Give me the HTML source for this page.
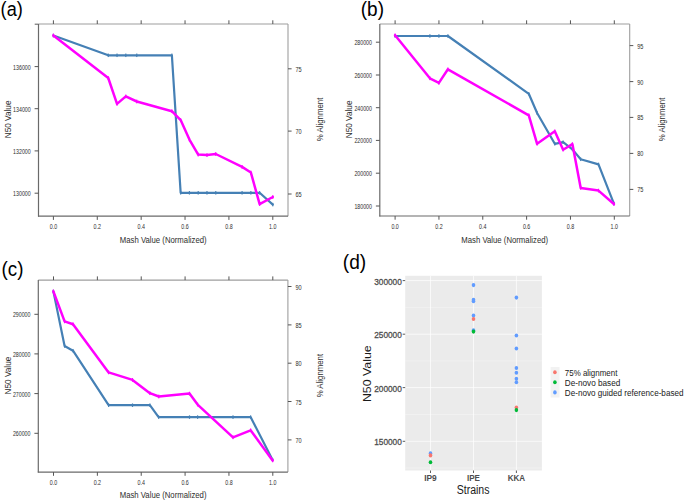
<!DOCTYPE html><html><head><meta charset="utf-8"><style>html,body{margin:0;padding:0;background:#fff;}svg{display:block;}text{font-family:"Liberation Sans", sans-serif;}</style></head><body>
<svg width="685" height="501" viewBox="0 0 685 501">
<rect width="685" height="501" fill="#fff"/>
<text x="0.6" y="16.4" font-size="19.6" text-anchor="start" fill="#000" textLength="22.2" lengthAdjust="spacingAndGlyphs">(a)</text>
<text x="360.8" y="16.4" font-size="19.6" text-anchor="start" fill="#000" textLength="23.2" lengthAdjust="spacingAndGlyphs">(b)</text>
<text x="1.6" y="276.2" font-size="19.6" text-anchor="start" fill="#000" textLength="21.9" lengthAdjust="spacingAndGlyphs">(c)</text>
<text x="342.8" y="268.7" font-size="19.6" text-anchor="start" fill="#000" textLength="23.4" lengthAdjust="spacingAndGlyphs">(d)</text>
<line x1="38.5" y1="24" x2="288" y2="24" stroke="#9e9e9e" stroke-width="1.1"/>
<line x1="288" y1="24" x2="288" y2="216.2" stroke="#9e9e9e" stroke-width="1.1"/>
<line x1="38.5" y1="24" x2="38.5" y2="216.7" stroke="#6a6a6a" stroke-width="1.2"/>
<line x1="38" y1="216.2" x2="288" y2="216.2" stroke="#6a6a6a" stroke-width="1.2"/>
<line x1="53.4" y1="20.3" x2="53.4" y2="24" stroke="#555" stroke-width="1.0"/>
<line x1="53.4" y1="216.2" x2="53.4" y2="219.9" stroke="#555" stroke-width="1.0"/>
<text x="53.4" y="228.9" font-size="6.7" text-anchor="middle" fill="#2e2e2e" textLength="7.4" lengthAdjust="spacingAndGlyphs">0.0</text>
<line x1="97.28" y1="20.3" x2="97.28" y2="24" stroke="#555" stroke-width="1.0"/>
<line x1="97.28" y1="216.2" x2="97.28" y2="219.9" stroke="#555" stroke-width="1.0"/>
<text x="97.28" y="228.9" font-size="6.7" text-anchor="middle" fill="#2e2e2e" textLength="7.4" lengthAdjust="spacingAndGlyphs">0.2</text>
<line x1="141.16" y1="20.3" x2="141.16" y2="24" stroke="#555" stroke-width="1.0"/>
<line x1="141.16" y1="216.2" x2="141.16" y2="219.9" stroke="#555" stroke-width="1.0"/>
<text x="141.16" y="228.9" font-size="6.7" text-anchor="middle" fill="#2e2e2e" textLength="7.4" lengthAdjust="spacingAndGlyphs">0.4</text>
<line x1="185.04" y1="20.3" x2="185.04" y2="24" stroke="#555" stroke-width="1.0"/>
<line x1="185.04" y1="216.2" x2="185.04" y2="219.9" stroke="#555" stroke-width="1.0"/>
<text x="185.04" y="228.9" font-size="6.7" text-anchor="middle" fill="#2e2e2e" textLength="7.4" lengthAdjust="spacingAndGlyphs">0.6</text>
<line x1="228.92" y1="20.3" x2="228.92" y2="24" stroke="#555" stroke-width="1.0"/>
<line x1="228.92" y1="216.2" x2="228.92" y2="219.9" stroke="#555" stroke-width="1.0"/>
<text x="228.92" y="228.9" font-size="6.7" text-anchor="middle" fill="#2e2e2e" textLength="7.4" lengthAdjust="spacingAndGlyphs">0.8</text>
<line x1="272.8" y1="20.3" x2="272.8" y2="24" stroke="#555" stroke-width="1.0"/>
<line x1="272.8" y1="216.2" x2="272.8" y2="219.9" stroke="#555" stroke-width="1.0"/>
<text x="272.8" y="228.9" font-size="6.7" text-anchor="middle" fill="#2e2e2e" textLength="7.4" lengthAdjust="spacingAndGlyphs">1.0</text>
<line x1="34.6" y1="66.6" x2="38.5" y2="66.6" stroke="#555" stroke-width="1.0"/>
<text x="30.7" y="69.6" font-size="6.8" text-anchor="end" fill="#2e2e2e" textLength="17.6" lengthAdjust="spacingAndGlyphs">136000</text>
<line x1="34.6" y1="108.7" x2="38.5" y2="108.7" stroke="#555" stroke-width="1.0"/>
<text x="30.7" y="111.7" font-size="6.8" text-anchor="end" fill="#2e2e2e" textLength="17.6" lengthAdjust="spacingAndGlyphs">134000</text>
<line x1="34.6" y1="150.9" x2="38.5" y2="150.9" stroke="#555" stroke-width="1.0"/>
<text x="30.7" y="153.9" font-size="6.8" text-anchor="end" fill="#2e2e2e" textLength="17.6" lengthAdjust="spacingAndGlyphs">132000</text>
<line x1="34.6" y1="193.2" x2="38.5" y2="193.2" stroke="#555" stroke-width="1.0"/>
<text x="30.7" y="196.2" font-size="6.8" text-anchor="end" fill="#2e2e2e" textLength="17.6" lengthAdjust="spacingAndGlyphs">130000</text>
<line x1="288" y1="68.8" x2="291.6" y2="68.8" stroke="#555" stroke-width="1.0"/>
<text x="295.5" y="71.8" font-size="6.8" text-anchor="start" fill="#2e2e2e" textLength="6.2" lengthAdjust="spacingAndGlyphs">75</text>
<line x1="288" y1="131.1" x2="291.6" y2="131.1" stroke="#555" stroke-width="1.0"/>
<text x="295.5" y="134.1" font-size="6.8" text-anchor="start" fill="#2e2e2e" textLength="6.2" lengthAdjust="spacingAndGlyphs">70</text>
<line x1="288" y1="194" x2="291.6" y2="194" stroke="#555" stroke-width="1.0"/>
<text x="295.5" y="197" font-size="6.8" text-anchor="start" fill="#2e2e2e" textLength="6.2" lengthAdjust="spacingAndGlyphs">65</text>
<text x="163.25" y="242.5" font-size="8.6" text-anchor="middle" fill="#2e2e2e" textLength="86.8" lengthAdjust="spacingAndGlyphs">Mash Value (Normalized)</text>
<text transform="translate(10.9,119.4) rotate(-90)" x="0" y="0" font-size="8.6" text-anchor="middle" fill="#2e2e2e" textLength="37.8" lengthAdjust="spacingAndGlyphs">N50 Value</text>
<text transform="translate(323,119.4) rotate(-90)" x="0" y="0" font-size="8.6" text-anchor="middle" fill="#2e2e2e" textLength="43.5" lengthAdjust="spacingAndGlyphs">% Alignment</text>
<line x1="34.7" y1="24.2" x2="38.5" y2="24.2" stroke="#6a6a6a" stroke-width="1.1"/>
<polyline points="53.4,35.5 108.25,55.3 117.03,55.3 125.8,55.3 136.77,55.3 171.88,55.3 180.65,192.8 189.43,192.8 198.2,192.8 206.98,192.8 215.76,192.8 242.08,192.8 250.86,192.8 259.64,192.8 272.8,204.6" fill="none" stroke="#4580b5" stroke-width="2.2" stroke-linejoin="round" stroke-linecap="round"/>
<rect x="52.8" y="33.75" width="1.2" height="3.5" fill="#4580b5"/>
<rect x="107.65" y="53.55" width="1.2" height="3.5" fill="#4580b5"/>
<rect x="116.43" y="53.55" width="1.2" height="3.5" fill="#4580b5"/>
<rect x="125.2" y="53.55" width="1.2" height="3.5" fill="#4580b5"/>
<rect x="136.17" y="53.55" width="1.2" height="3.5" fill="#4580b5"/>
<rect x="171.28" y="53.55" width="1.2" height="3.5" fill="#4580b5"/>
<rect x="180.05" y="191.05" width="1.2" height="3.5" fill="#4580b5"/>
<rect x="188.83" y="191.05" width="1.2" height="3.5" fill="#4580b5"/>
<rect x="197.6" y="191.05" width="1.2" height="3.5" fill="#4580b5"/>
<rect x="206.38" y="191.05" width="1.2" height="3.5" fill="#4580b5"/>
<rect x="215.16" y="191.05" width="1.2" height="3.5" fill="#4580b5"/>
<rect x="241.48" y="191.05" width="1.2" height="3.5" fill="#4580b5"/>
<rect x="250.26" y="191.05" width="1.2" height="3.5" fill="#4580b5"/>
<rect x="259.04" y="191.05" width="1.2" height="3.5" fill="#4580b5"/>
<rect x="272.2" y="202.85" width="1.2" height="3.5" fill="#4580b5"/>
<polyline points="53.4,35.5 108.25,78 117.03,103.9 125.8,96.4 136.77,101.5 171.88,111.2 180.65,120.1 189.43,139.6 198.2,154.6 206.98,155.1 215.76,154 242.08,166.9 250.86,172.5 259.64,204.1 272.8,197" fill="none" stroke="#ff00ff" stroke-width="2.5" stroke-linejoin="round" stroke-linecap="round"/>
<rect x="52.8" y="33.65" width="1.2" height="3.7" fill="#ff00ff"/>
<rect x="107.65" y="76.15" width="1.2" height="3.7" fill="#ff00ff"/>
<rect x="116.43" y="102.05" width="1.2" height="3.7" fill="#ff00ff"/>
<rect x="125.2" y="94.55" width="1.2" height="3.7" fill="#ff00ff"/>
<rect x="136.17" y="99.65" width="1.2" height="3.7" fill="#ff00ff"/>
<rect x="171.28" y="109.35" width="1.2" height="3.7" fill="#ff00ff"/>
<rect x="180.05" y="118.25" width="1.2" height="3.7" fill="#ff00ff"/>
<rect x="188.83" y="137.75" width="1.2" height="3.7" fill="#ff00ff"/>
<rect x="197.6" y="152.75" width="1.2" height="3.7" fill="#ff00ff"/>
<rect x="206.38" y="153.25" width="1.2" height="3.7" fill="#ff00ff"/>
<rect x="215.16" y="152.15" width="1.2" height="3.7" fill="#ff00ff"/>
<rect x="241.48" y="165.05" width="1.2" height="3.7" fill="#ff00ff"/>
<rect x="250.26" y="170.65" width="1.2" height="3.7" fill="#ff00ff"/>
<rect x="259.04" y="202.25" width="1.2" height="3.7" fill="#ff00ff"/>
<rect x="272.2" y="195.15" width="1.2" height="3.7" fill="#ff00ff"/>
<line x1="379.8" y1="24" x2="629.7" y2="24" stroke="#9e9e9e" stroke-width="1.1"/>
<line x1="629.7" y1="24" x2="629.7" y2="216" stroke="#9e9e9e" stroke-width="1.1"/>
<line x1="379.8" y1="24" x2="379.8" y2="216.5" stroke="#6a6a6a" stroke-width="1.2"/>
<line x1="379.3" y1="216" x2="629.7" y2="216" stroke="#6a6a6a" stroke-width="1.2"/>
<line x1="395.1" y1="20.3" x2="395.1" y2="24" stroke="#555" stroke-width="1.0"/>
<line x1="395.1" y1="216" x2="395.1" y2="219.7" stroke="#555" stroke-width="1.0"/>
<text x="395.1" y="228.7" font-size="6.7" text-anchor="middle" fill="#2e2e2e" textLength="7.4" lengthAdjust="spacingAndGlyphs">0.0</text>
<line x1="438.94" y1="20.3" x2="438.94" y2="24" stroke="#555" stroke-width="1.0"/>
<line x1="438.94" y1="216" x2="438.94" y2="219.7" stroke="#555" stroke-width="1.0"/>
<text x="438.94" y="228.7" font-size="6.7" text-anchor="middle" fill="#2e2e2e" textLength="7.4" lengthAdjust="spacingAndGlyphs">0.2</text>
<line x1="482.78" y1="20.3" x2="482.78" y2="24" stroke="#555" stroke-width="1.0"/>
<line x1="482.78" y1="216" x2="482.78" y2="219.7" stroke="#555" stroke-width="1.0"/>
<text x="482.78" y="228.7" font-size="6.7" text-anchor="middle" fill="#2e2e2e" textLength="7.4" lengthAdjust="spacingAndGlyphs">0.4</text>
<line x1="526.62" y1="20.3" x2="526.62" y2="24" stroke="#555" stroke-width="1.0"/>
<line x1="526.62" y1="216" x2="526.62" y2="219.7" stroke="#555" stroke-width="1.0"/>
<text x="526.62" y="228.7" font-size="6.7" text-anchor="middle" fill="#2e2e2e" textLength="7.4" lengthAdjust="spacingAndGlyphs">0.6</text>
<line x1="570.46" y1="20.3" x2="570.46" y2="24" stroke="#555" stroke-width="1.0"/>
<line x1="570.46" y1="216" x2="570.46" y2="219.7" stroke="#555" stroke-width="1.0"/>
<text x="570.46" y="228.7" font-size="6.7" text-anchor="middle" fill="#2e2e2e" textLength="7.4" lengthAdjust="spacingAndGlyphs">0.8</text>
<line x1="614.3" y1="20.3" x2="614.3" y2="24" stroke="#555" stroke-width="1.0"/>
<line x1="614.3" y1="216" x2="614.3" y2="219.7" stroke="#555" stroke-width="1.0"/>
<text x="614.3" y="228.7" font-size="6.7" text-anchor="middle" fill="#2e2e2e" textLength="7.4" lengthAdjust="spacingAndGlyphs">1.0</text>
<line x1="375.9" y1="42.2" x2="379.8" y2="42.2" stroke="#555" stroke-width="1.0"/>
<text x="372" y="45.2" font-size="6.8" text-anchor="end" fill="#2e2e2e" textLength="17.6" lengthAdjust="spacingAndGlyphs">280000</text>
<line x1="375.9" y1="75" x2="379.8" y2="75" stroke="#555" stroke-width="1.0"/>
<text x="372" y="78" font-size="6.8" text-anchor="end" fill="#2e2e2e" textLength="17.6" lengthAdjust="spacingAndGlyphs">260000</text>
<line x1="375.9" y1="107.7" x2="379.8" y2="107.7" stroke="#555" stroke-width="1.0"/>
<text x="372" y="110.7" font-size="6.8" text-anchor="end" fill="#2e2e2e" textLength="17.6" lengthAdjust="spacingAndGlyphs">240000</text>
<line x1="375.9" y1="140.4" x2="379.8" y2="140.4" stroke="#555" stroke-width="1.0"/>
<text x="372" y="143.4" font-size="6.8" text-anchor="end" fill="#2e2e2e" textLength="17.6" lengthAdjust="spacingAndGlyphs">220000</text>
<line x1="375.9" y1="173.2" x2="379.8" y2="173.2" stroke="#555" stroke-width="1.0"/>
<text x="372" y="176.2" font-size="6.8" text-anchor="end" fill="#2e2e2e" textLength="17.6" lengthAdjust="spacingAndGlyphs">200000</text>
<line x1="375.9" y1="206" x2="379.8" y2="206" stroke="#555" stroke-width="1.0"/>
<text x="372" y="209" font-size="6.8" text-anchor="end" fill="#2e2e2e" textLength="17.6" lengthAdjust="spacingAndGlyphs">180000</text>
<line x1="629.7" y1="45.6" x2="633.3" y2="45.6" stroke="#555" stroke-width="1.0"/>
<text x="637.2" y="48.6" font-size="6.8" text-anchor="start" fill="#2e2e2e" textLength="6.2" lengthAdjust="spacingAndGlyphs">95</text>
<line x1="629.7" y1="81.6" x2="633.3" y2="81.6" stroke="#555" stroke-width="1.0"/>
<text x="637.2" y="84.6" font-size="6.8" text-anchor="start" fill="#2e2e2e" textLength="6.2" lengthAdjust="spacingAndGlyphs">90</text>
<line x1="629.7" y1="117.4" x2="633.3" y2="117.4" stroke="#555" stroke-width="1.0"/>
<text x="637.2" y="120.4" font-size="6.8" text-anchor="start" fill="#2e2e2e" textLength="6.2" lengthAdjust="spacingAndGlyphs">85</text>
<line x1="629.7" y1="153.4" x2="633.3" y2="153.4" stroke="#555" stroke-width="1.0"/>
<text x="637.2" y="156.4" font-size="6.8" text-anchor="start" fill="#2e2e2e" textLength="6.2" lengthAdjust="spacingAndGlyphs">80</text>
<line x1="629.7" y1="189.4" x2="633.3" y2="189.4" stroke="#555" stroke-width="1.0"/>
<text x="637.2" y="192.4" font-size="6.8" text-anchor="start" fill="#2e2e2e" textLength="6.2" lengthAdjust="spacingAndGlyphs">75</text>
<text x="504.75" y="242.5" font-size="8.6" text-anchor="middle" fill="#2e2e2e" textLength="86.8" lengthAdjust="spacingAndGlyphs">Mash Value (Normalized)</text>
<text transform="translate(352,119.4) rotate(-90)" x="0" y="0" font-size="8.6" text-anchor="middle" fill="#2e2e2e" textLength="37.8" lengthAdjust="spacingAndGlyphs">N50 Value</text>
<text transform="translate(664.8,119.4) rotate(-90)" x="0" y="0" font-size="8.6" text-anchor="middle" fill="#2e2e2e" textLength="43.5" lengthAdjust="spacingAndGlyphs">% Alignment</text>
<polyline points="395.1,36 429.9,36 438.9,36 447.9,36 528.8,93.8 537.1,113 554.8,143.8 563.1,142.2 572.4,149.4 580.7,159.3 598.5,164.4 613.9,203.6" fill="none" stroke="#4580b5" stroke-width="2.2" stroke-linejoin="round" stroke-linecap="round"/>
<rect x="394.5" y="34.25" width="1.2" height="3.5" fill="#4580b5"/>
<rect x="429.3" y="34.25" width="1.2" height="3.5" fill="#4580b5"/>
<rect x="438.3" y="34.25" width="1.2" height="3.5" fill="#4580b5"/>
<rect x="447.3" y="34.25" width="1.2" height="3.5" fill="#4580b5"/>
<rect x="528.2" y="92.05" width="1.2" height="3.5" fill="#4580b5"/>
<rect x="536.5" y="111.25" width="1.2" height="3.5" fill="#4580b5"/>
<rect x="554.2" y="142.05" width="1.2" height="3.5" fill="#4580b5"/>
<rect x="562.5" y="140.45" width="1.2" height="3.5" fill="#4580b5"/>
<rect x="571.8" y="147.65" width="1.2" height="3.5" fill="#4580b5"/>
<rect x="580.1" y="157.55" width="1.2" height="3.5" fill="#4580b5"/>
<rect x="597.9" y="162.65" width="1.2" height="3.5" fill="#4580b5"/>
<rect x="613.3" y="201.85" width="1.2" height="3.5" fill="#4580b5"/>
<polyline points="395.1,35.3 429.9,78.3 438.9,82.9 447.9,69.3 528.8,115.3 537.1,143.8 554.8,131.3 563.1,149.7 572.4,144.1 580.7,187.9 598.5,190.6 613.9,204" fill="none" stroke="#ff00ff" stroke-width="2.5" stroke-linejoin="round" stroke-linecap="round"/>
<rect x="394.5" y="33.45" width="1.2" height="3.7" fill="#ff00ff"/>
<rect x="429.3" y="76.45" width="1.2" height="3.7" fill="#ff00ff"/>
<rect x="438.3" y="81.05" width="1.2" height="3.7" fill="#ff00ff"/>
<rect x="447.3" y="67.45" width="1.2" height="3.7" fill="#ff00ff"/>
<rect x="528.2" y="113.45" width="1.2" height="3.7" fill="#ff00ff"/>
<rect x="536.5" y="141.95" width="1.2" height="3.7" fill="#ff00ff"/>
<rect x="554.2" y="129.45" width="1.2" height="3.7" fill="#ff00ff"/>
<rect x="562.5" y="147.85" width="1.2" height="3.7" fill="#ff00ff"/>
<rect x="571.8" y="142.25" width="1.2" height="3.7" fill="#ff00ff"/>
<rect x="580.1" y="186.05" width="1.2" height="3.7" fill="#ff00ff"/>
<rect x="597.9" y="188.75" width="1.2" height="3.7" fill="#ff00ff"/>
<rect x="613.3" y="202.15" width="1.2" height="3.7" fill="#ff00ff"/>
<line x1="38.3" y1="280.1" x2="287.9" y2="280.1" stroke="#9e9e9e" stroke-width="1.1"/>
<line x1="287.9" y1="280.1" x2="287.9" y2="472.1" stroke="#9e9e9e" stroke-width="1.1"/>
<line x1="38.3" y1="280.1" x2="38.3" y2="472.6" stroke="#6a6a6a" stroke-width="1.2"/>
<line x1="37.8" y1="472.1" x2="287.9" y2="472.1" stroke="#6a6a6a" stroke-width="1.2"/>
<line x1="53.5" y1="276.4" x2="53.5" y2="280.1" stroke="#555" stroke-width="1.0"/>
<line x1="53.5" y1="472.1" x2="53.5" y2="475.8" stroke="#555" stroke-width="1.0"/>
<text x="53.5" y="484.8" font-size="6.7" text-anchor="middle" fill="#2e2e2e" textLength="7.4" lengthAdjust="spacingAndGlyphs">0.0</text>
<line x1="97.36" y1="276.4" x2="97.36" y2="280.1" stroke="#555" stroke-width="1.0"/>
<line x1="97.36" y1="472.1" x2="97.36" y2="475.8" stroke="#555" stroke-width="1.0"/>
<text x="97.36" y="484.8" font-size="6.7" text-anchor="middle" fill="#2e2e2e" textLength="7.4" lengthAdjust="spacingAndGlyphs">0.2</text>
<line x1="141.22" y1="276.4" x2="141.22" y2="280.1" stroke="#555" stroke-width="1.0"/>
<line x1="141.22" y1="472.1" x2="141.22" y2="475.8" stroke="#555" stroke-width="1.0"/>
<text x="141.22" y="484.8" font-size="6.7" text-anchor="middle" fill="#2e2e2e" textLength="7.4" lengthAdjust="spacingAndGlyphs">0.4</text>
<line x1="185.08" y1="276.4" x2="185.08" y2="280.1" stroke="#555" stroke-width="1.0"/>
<line x1="185.08" y1="472.1" x2="185.08" y2="475.8" stroke="#555" stroke-width="1.0"/>
<text x="185.08" y="484.8" font-size="6.7" text-anchor="middle" fill="#2e2e2e" textLength="7.4" lengthAdjust="spacingAndGlyphs">0.6</text>
<line x1="228.94" y1="276.4" x2="228.94" y2="280.1" stroke="#555" stroke-width="1.0"/>
<line x1="228.94" y1="472.1" x2="228.94" y2="475.8" stroke="#555" stroke-width="1.0"/>
<text x="228.94" y="484.8" font-size="6.7" text-anchor="middle" fill="#2e2e2e" textLength="7.4" lengthAdjust="spacingAndGlyphs">0.8</text>
<line x1="272.8" y1="276.4" x2="272.8" y2="280.1" stroke="#555" stroke-width="1.0"/>
<line x1="272.8" y1="472.1" x2="272.8" y2="475.8" stroke="#555" stroke-width="1.0"/>
<text x="272.8" y="484.8" font-size="6.7" text-anchor="middle" fill="#2e2e2e" textLength="7.4" lengthAdjust="spacingAndGlyphs">1.0</text>
<line x1="34.4" y1="314.3" x2="38.3" y2="314.3" stroke="#555" stroke-width="1.0"/>
<text x="30.5" y="317.3" font-size="6.8" text-anchor="end" fill="#2e2e2e" textLength="17.6" lengthAdjust="spacingAndGlyphs">290000</text>
<line x1="34.4" y1="353.9" x2="38.3" y2="353.9" stroke="#555" stroke-width="1.0"/>
<text x="30.5" y="356.9" font-size="6.8" text-anchor="end" fill="#2e2e2e" textLength="17.6" lengthAdjust="spacingAndGlyphs">280000</text>
<line x1="34.4" y1="393.6" x2="38.3" y2="393.6" stroke="#555" stroke-width="1.0"/>
<text x="30.5" y="396.6" font-size="6.8" text-anchor="end" fill="#2e2e2e" textLength="17.6" lengthAdjust="spacingAndGlyphs">270000</text>
<line x1="34.4" y1="433.3" x2="38.3" y2="433.3" stroke="#555" stroke-width="1.0"/>
<text x="30.5" y="436.3" font-size="6.8" text-anchor="end" fill="#2e2e2e" textLength="17.6" lengthAdjust="spacingAndGlyphs">260000</text>
<line x1="287.9" y1="286.5" x2="291.5" y2="286.5" stroke="#555" stroke-width="1.0"/>
<text x="295.4" y="289.5" font-size="6.8" text-anchor="start" fill="#2e2e2e" textLength="6.2" lengthAdjust="spacingAndGlyphs">90</text>
<line x1="287.9" y1="324.9" x2="291.5" y2="324.9" stroke="#555" stroke-width="1.0"/>
<text x="295.4" y="327.9" font-size="6.8" text-anchor="start" fill="#2e2e2e" textLength="6.2" lengthAdjust="spacingAndGlyphs">85</text>
<line x1="287.9" y1="363.2" x2="291.5" y2="363.2" stroke="#555" stroke-width="1.0"/>
<text x="295.4" y="366.2" font-size="6.8" text-anchor="start" fill="#2e2e2e" textLength="6.2" lengthAdjust="spacingAndGlyphs">80</text>
<line x1="287.9" y1="401.5" x2="291.5" y2="401.5" stroke="#555" stroke-width="1.0"/>
<text x="295.4" y="404.5" font-size="6.8" text-anchor="start" fill="#2e2e2e" textLength="6.2" lengthAdjust="spacingAndGlyphs">75</text>
<line x1="287.9" y1="439.9" x2="291.5" y2="439.9" stroke="#555" stroke-width="1.0"/>
<text x="295.4" y="442.9" font-size="6.8" text-anchor="start" fill="#2e2e2e" textLength="6.2" lengthAdjust="spacingAndGlyphs">70</text>
<text x="163.1" y="498.1" font-size="8.6" text-anchor="middle" fill="#2e2e2e" textLength="86.8" lengthAdjust="spacingAndGlyphs">Mash Value (Normalized)</text>
<text transform="translate(10.9,375.6) rotate(-90)" x="0" y="0" font-size="8.6" text-anchor="middle" fill="#2e2e2e" textLength="37.8" lengthAdjust="spacingAndGlyphs">N50 Value</text>
<text transform="translate(323,375.6) rotate(-90)" x="0" y="0" font-size="8.6" text-anchor="middle" fill="#2e2e2e" textLength="43.5" lengthAdjust="spacingAndGlyphs">% Alignment</text>
<polyline points="53.4,291.4 64.6,346 73,350.7 108.6,405.2 132.5,405.2 149.9,405.2 158.6,417.1 189.5,417.1 197.6,417.1 233,417.1 250.6,417.1 272.6,459.9" fill="none" stroke="#4580b5" stroke-width="2.2" stroke-linejoin="round" stroke-linecap="round"/>
<rect x="52.8" y="289.65" width="1.2" height="3.5" fill="#4580b5"/>
<rect x="64" y="344.25" width="1.2" height="3.5" fill="#4580b5"/>
<rect x="72.4" y="348.95" width="1.2" height="3.5" fill="#4580b5"/>
<rect x="108" y="403.45" width="1.2" height="3.5" fill="#4580b5"/>
<rect x="131.9" y="403.45" width="1.2" height="3.5" fill="#4580b5"/>
<rect x="149.3" y="403.45" width="1.2" height="3.5" fill="#4580b5"/>
<rect x="158" y="415.35" width="1.2" height="3.5" fill="#4580b5"/>
<rect x="188.9" y="415.35" width="1.2" height="3.5" fill="#4580b5"/>
<rect x="197" y="415.35" width="1.2" height="3.5" fill="#4580b5"/>
<rect x="232.4" y="415.35" width="1.2" height="3.5" fill="#4580b5"/>
<rect x="250" y="415.35" width="1.2" height="3.5" fill="#4580b5"/>
<rect x="272" y="458.15" width="1.2" height="3.5" fill="#4580b5"/>
<polyline points="53.4,291.4 64.6,321.4 73,324.2 108.6,372.4 132.5,379.9 149.9,393.2 158.8,396.5 189.5,393.6 197.6,404.6 233,437.3 250.6,430.3 272.6,460.4" fill="none" stroke="#ff00ff" stroke-width="2.5" stroke-linejoin="round" stroke-linecap="round"/>
<rect x="52.8" y="289.55" width="1.2" height="3.7" fill="#ff00ff"/>
<rect x="64" y="319.55" width="1.2" height="3.7" fill="#ff00ff"/>
<rect x="72.4" y="322.35" width="1.2" height="3.7" fill="#ff00ff"/>
<rect x="108" y="370.55" width="1.2" height="3.7" fill="#ff00ff"/>
<rect x="131.9" y="378.05" width="1.2" height="3.7" fill="#ff00ff"/>
<rect x="149.3" y="391.35" width="1.2" height="3.7" fill="#ff00ff"/>
<rect x="158.2" y="394.65" width="1.2" height="3.7" fill="#ff00ff"/>
<rect x="188.9" y="391.75" width="1.2" height="3.7" fill="#ff00ff"/>
<rect x="197" y="402.75" width="1.2" height="3.7" fill="#ff00ff"/>
<rect x="232.4" y="435.45" width="1.2" height="3.7" fill="#ff00ff"/>
<rect x="250" y="428.45" width="1.2" height="3.7" fill="#ff00ff"/>
<rect x="272" y="458.55" width="1.2" height="3.7" fill="#ff00ff"/>
<rect x="405.2" y="275.8" width="136.7" height="194.7" fill="#ebebeb"/>
<line x1="405.2" y1="307.4" x2="541.9" y2="307.4" stroke="#fff" stroke-opacity="0.5" stroke-width="0.6"/>
<line x1="405.2" y1="360.9" x2="541.9" y2="360.9" stroke="#fff" stroke-opacity="0.5" stroke-width="0.6"/>
<line x1="405.2" y1="414.5" x2="541.9" y2="414.5" stroke="#fff" stroke-opacity="0.5" stroke-width="0.6"/>
<line x1="405.2" y1="468" x2="541.9" y2="468" stroke="#fff" stroke-opacity="0.5" stroke-width="0.6"/>
<line x1="405.2" y1="280.6" x2="541.9" y2="280.6" stroke="#fff" stroke-opacity="0.7" stroke-width="1.0"/>
<line x1="405.2" y1="334.2" x2="541.9" y2="334.2" stroke="#fff" stroke-opacity="0.7" stroke-width="1.0"/>
<line x1="405.2" y1="387.6" x2="541.9" y2="387.6" stroke="#fff" stroke-opacity="0.7" stroke-width="1.0"/>
<line x1="405.2" y1="441.3" x2="541.9" y2="441.3" stroke="#fff" stroke-opacity="0.7" stroke-width="1.0"/>
<line x1="430.5" y1="275.8" x2="430.5" y2="470.5" stroke="#fff" stroke-opacity="0.7" stroke-width="1.0"/>
<line x1="473.5" y1="275.8" x2="473.5" y2="470.5" stroke="#fff" stroke-opacity="0.7" stroke-width="1.0"/>
<line x1="516.4" y1="275.8" x2="516.4" y2="470.5" stroke="#fff" stroke-opacity="0.7" stroke-width="1.0"/>
<line x1="402.7" y1="280.6" x2="405.2" y2="280.6" stroke="#333" stroke-width="0.8"/>
<text x="401.8" y="284.5" font-size="9.6" text-anchor="end" fill="#4d4d4d" textLength="27.6" lengthAdjust="spacingAndGlyphs" stroke="#4d4d4d" stroke-width="0.3">300000</text>
<line x1="402.7" y1="334.2" x2="405.2" y2="334.2" stroke="#333" stroke-width="0.8"/>
<text x="401.8" y="338.1" font-size="9.6" text-anchor="end" fill="#4d4d4d" textLength="27.6" lengthAdjust="spacingAndGlyphs" stroke="#4d4d4d" stroke-width="0.3">250000</text>
<line x1="402.7" y1="387.6" x2="405.2" y2="387.6" stroke="#333" stroke-width="0.8"/>
<text x="401.8" y="391.5" font-size="9.6" text-anchor="end" fill="#4d4d4d" textLength="27.6" lengthAdjust="spacingAndGlyphs" stroke="#4d4d4d" stroke-width="0.3">200000</text>
<line x1="402.7" y1="441.3" x2="405.2" y2="441.3" stroke="#333" stroke-width="0.8"/>
<text x="401.8" y="445.2" font-size="9.6" text-anchor="end" fill="#4d4d4d" textLength="27.6" lengthAdjust="spacingAndGlyphs" stroke="#4d4d4d" stroke-width="0.3">150000</text>
<line x1="430.5" y1="470.5" x2="430.5" y2="473" stroke="#333" stroke-width="0.8"/>
<text x="430.5" y="480.9" font-size="8.6" text-anchor="middle" fill="#4d4d4d" textLength="12.6" lengthAdjust="spacingAndGlyphs" font-weight="bold">IP9</text>
<line x1="473.5" y1="470.5" x2="473.5" y2="473" stroke="#333" stroke-width="0.8"/>
<text x="473.5" y="480.9" font-size="8.6" text-anchor="middle" fill="#4d4d4d" textLength="13" lengthAdjust="spacingAndGlyphs" font-weight="bold">IPE</text>
<line x1="516.4" y1="470.5" x2="516.4" y2="473" stroke="#333" stroke-width="0.8"/>
<text x="516.4" y="480.9" font-size="8.6" text-anchor="middle" fill="#4d4d4d" textLength="17.4" lengthAdjust="spacingAndGlyphs" font-weight="bold">KKA</text>
<text x="473.1" y="494" font-size="12" text-anchor="middle" fill="#1a1a1a" textLength="32.9" lengthAdjust="spacingAndGlyphs">Strains</text>
<text transform="translate(371.2,373.75) rotate(-90)" x="0" y="0" font-size="11.5" text-anchor="middle" fill="#1a1a1a" textLength="56.7" lengthAdjust="spacingAndGlyphs">N50 Value</text>
<ellipse cx="430.5" cy="453.4" rx="1.8" ry="2.05" fill="#619cff"/>
<ellipse cx="430.5" cy="455.4" rx="1.8" ry="2.05" fill="#f8766d"/>
<ellipse cx="430.5" cy="462.3" rx="1.8" ry="2.05" fill="#00ba38"/>
<ellipse cx="473.5" cy="285.1" rx="1.8" ry="2.05" fill="#619cff"/>
<ellipse cx="473.5" cy="299.8" rx="1.8" ry="2.05" fill="#619cff"/>
<ellipse cx="473.5" cy="301.3" rx="1.8" ry="2.05" fill="#619cff"/>
<ellipse cx="473.5" cy="315.5" rx="1.8" ry="2.05" fill="#619cff"/>
<ellipse cx="473.5" cy="330.2" rx="1.8" ry="2.05" fill="#619cff"/>
<ellipse cx="473.5" cy="319" rx="1.8" ry="2.05" fill="#f8766d"/>
<ellipse cx="473.5" cy="331.6" rx="1.8" ry="2.05" fill="#00ba38"/>
<ellipse cx="516.4" cy="297.6" rx="1.8" ry="2.05" fill="#619cff"/>
<ellipse cx="516.4" cy="335.5" rx="1.8" ry="2.05" fill="#619cff"/>
<ellipse cx="516.4" cy="348.5" rx="1.8" ry="2.05" fill="#619cff"/>
<ellipse cx="516.4" cy="368" rx="1.8" ry="2.05" fill="#619cff"/>
<ellipse cx="516.4" cy="372.8" rx="1.8" ry="2.05" fill="#619cff"/>
<ellipse cx="516.4" cy="378.7" rx="1.8" ry="2.05" fill="#619cff"/>
<ellipse cx="516.4" cy="382.2" rx="1.8" ry="2.05" fill="#619cff"/>
<ellipse cx="516.4" cy="407.6" rx="1.8" ry="2.05" fill="#f8766d"/>
<ellipse cx="516.4" cy="410.1" rx="1.8" ry="2.05" fill="#00ba38"/>
<rect x="550.6" y="367" width="8.9" height="30.5" fill="#f2f2f2"/>
<ellipse cx="554.9" cy="372.2" rx="1.8" ry="2.05" fill="#f8766d"/>
<ellipse cx="554.9" cy="382.3" rx="1.8" ry="2.05" fill="#00ba38"/>
<ellipse cx="554.9" cy="392.4" rx="1.8" ry="2.05" fill="#619cff"/>
<text x="564.8" y="376" font-size="9.6" text-anchor="start" fill="#1a1a1a" textLength="52.6" lengthAdjust="spacingAndGlyphs">75% alignment</text>
<text x="564.8" y="386.1" font-size="9.6" text-anchor="start" fill="#1a1a1a" textLength="55.5" lengthAdjust="spacingAndGlyphs">De-novo based</text>
<text x="564.8" y="396.2" font-size="9.6" text-anchor="start" fill="#1a1a1a" textLength="118.7" lengthAdjust="spacingAndGlyphs">De-novo guided reference-based</text>
</svg></body></html>
